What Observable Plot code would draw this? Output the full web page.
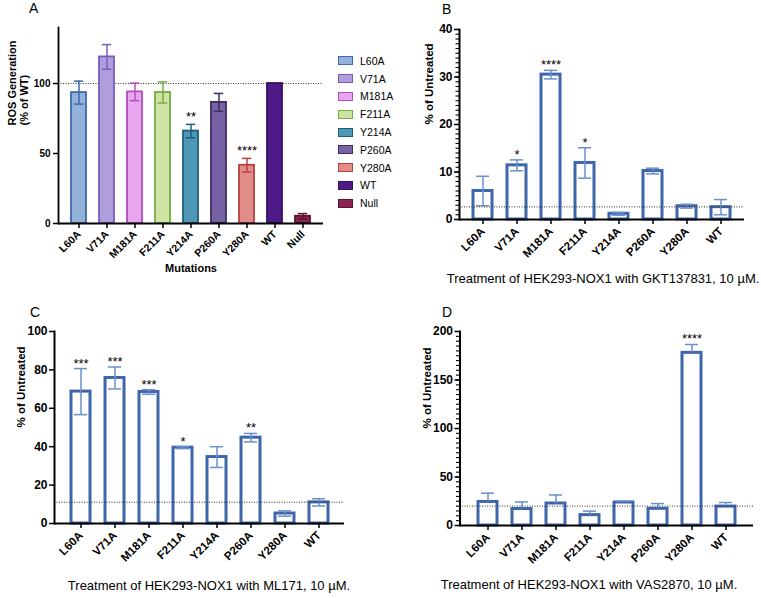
<!DOCTYPE html>
<html><head><meta charset="utf-8">
<script src="https://cdn.jsdelivr.net/npm/d3@7"></script>
<script src="https://cdn.jsdelivr.net/npm/@observablehq/plot@0.6"></script>
<style>
body{margin:0;background:#fff;font-family:"Liberation Sans",Arial,sans-serif;}
#root{position:relative;width:761px;height:598px;overflow:hidden;background:#fff;}
.panel{position:absolute;}
.letter{position:absolute;font-size:14px;color:#000;line-height:1;}
.caption{position:absolute;font-size:13px;color:#000;transform:translate(-50%,-50%);white-space:nowrap;}
.legend{position:absolute;left:338px;top:52px;font-size:10.5px;color:#000;}
.legend .row{display:flex;align-items:center;height:17.8px;}
.legend .sw{box-sizing:border-box;width:15px;height:9px;border:1.6px solid;margin-right:7px;}
</style></head><body><div id="root"></div><script>
// ---------- data ----------
const mutationsA = ["L60A","V71A","M181A","F211A","Y214A","P260A","Y280A","WT","Null"];
const rosValues = [93.5,119,94,93.6,66,86.5,41.6,100,5.2];
const rosErrors = [8.2,8.8,6.3,7.5,4.8,6.4,4.9,0,1.9];
const rosSig = ["","","","","**","","****","",""];
const fillColors = ["#94b1da","#b09edc","#e7a6ee","#cfe4a3","#4f97b7","#7862a5","#e08c89","#4d1a87","#8c2351"];
const strokeColors = ["#3e6aab","#7a5cbf","#b54cbf","#74ad44","#1c5f7b","#3d2d64","#b9403d","#35125f","#5c1433"];

const mutations = ["L60A","V71A","M181A","F211A","Y214A","P260A","Y280A","WT"];
const gktValues = [6.0,11.4,30.5,11.9,1.2,10.2,2.8,2.6];
const gktErrors = [3.1,1.15,0.9,3.2,0.3,0.6,0.4,1.6];
const gktSig = ["","*","****","*","","","",""];
const gktBaseline = 2.65;

const mlValues = [68.7,75.8,68.5,39.5,34.6,44.7,5.2,11];
const mlErrors = [12,5.7,1.2,0.5,5.4,2.2,1.4,1.9];
const mlSig = ["***","***","***","*","","**","",""];
const mlBaseline = 11.1;

const vasValues = [24.3,17,22.7,10.7,23.7,17.2,178,19.5];
const vasErrors = [9,7.3,8.8,4.1,1.4,5.4,8.6,4.2];
const vasSig = ["","","","","","","****",""];
const vasBaseline = 20;

const captions = [
  "Treatment of HEK293-NOX1 with GKT137831, 10 µM.",
  "Treatment of HEK293-NOX1 with ML171, 10 µM.",
  "Treatment of HEK293-NOX1 with VAS2870, 10 µM."
];

// ---------- helpers ----------
const root = document.getElementById("root");
const FONT = "'Liberation Sans', Arial, sans-serif";
function place(node, left, top){
  const d = document.createElement("div");
  d.className = "panel"; d.style.left = left + "px"; d.style.top = top + "px";
  d.appendChild(node); root.appendChild(d);
}
function addDiv(cls, text, left, top){
  const d = document.createElement("div");
  d.className = cls; d.textContent = text;
  d.style.left = left + "px"; d.style.top = top + "px";
  root.appendChild(d);
}

// ---------- Panel A ----------
const dataA = mutationsA.map((m,i)=>({m, v:rosValues[i], lo:rosValues[i]-rosErrors[i], hi:rosValues[i]+rosErrors[i], e:rosErrors[i], s:rosSig[i], fill:fillColors[i], stroke:strokeColors[i]}));
const errA = dataA.filter(d=>d.e>0);
const plotA = Plot.plot({
  width:380, height:290, marginLeft:58, marginRight:57, marginTop:27, marginBottom:67,
  style:{fontFamily:FONT, fontWeight:"bold", color:"#000", background:"transparent", overflow:"visible"},
  x:{domain:mutationsA, paddingInner:0.45, paddingOuter:0.39, label:null},
  y:{domain:[0,140], label:null},
  marks:[
    Plot.ruleY([100], {stroke:"#333", strokeWidth:1, strokeDasharray:"1,1.5"}),
    Plot.barY(dataA, {x:"m", y:"v", fill:d=>d.fill, stroke:d=>d.stroke, strokeWidth:1.8}),
    Plot.ruleX(errA, {x:"m", y1:"lo", y2:"hi", stroke:d=>d.stroke, strokeWidth:1.5}),
    Plot.tickY(errA, {x:"m", y:"hi", stroke:d=>d.stroke, strokeWidth:1.5, insetLeft:2.8, insetRight:2.8}),
    Plot.tickY(errA, {x:"m", y:"lo", stroke:d=>d.stroke, strokeWidth:1.5, insetLeft:2.8, insetRight:2.8}),
    Plot.text(dataA.filter(d=>d.s), {x:"m", y:"hi", text:"s", lineAnchor:"bottom", dy:-3, fontSize:13, fontWeight:"normal"}),
    Plot.axisY({ticks:[0,50,100], tickSize:5, tickPadding:3, fontSize:10, strokeWidth:1.5, label:null}),
    Plot.axisX({tickSize:5, tickPadding:4, tickRotate:-45, fontSize:10.5, strokeWidth:1.5, label:null}),
    Plot.ruleY([0], {strokeWidth:1.8}),
    Plot.frame({anchor:"left", strokeWidth:1.8}),
    Plot.text(["ROS Generation\n(% of WT)"], {text:d=>d, frameAnchor:"left", rotate:-90, dx:-40, fontSize:11, lineHeight:1.1}),
    Plot.text(["Mutations"], {text:d=>d, frameAnchor:"bottom", dy:48, fontSize:11})
  ]
});
place(plotA, 0, 0);

// legend A
const leg = document.createElement("div");
leg.className = "legend";
mutationsA.forEach((m,i)=>{
  const r = document.createElement("div"); r.className = "row";
  const sw = document.createElement("div"); sw.className = "sw";
  sw.style.background = fillColors[i]; sw.style.borderColor = strokeColors[i];
  const t = document.createElement("span"); t.textContent = m;
  r.appendChild(sw); r.appendChild(t); leg.appendChild(r);
});
root.appendChild(leg);

// ---------- hollow panels ----------
const BAR = "#3e66ab", ERR = "#6a8fcb";
function hollow({values, errors, sig, baseline, yMax, ticks, minor, w, h, ml, mr, mt, mb, po, upperOnly, labelDx}){
  const data = mutations.map((m,i)=>({m, v:values[i], lo:upperOnly ? values[i] : values[i]-errors[i], hi:values[i]+errors[i], s:sig[i]}));
  const frameW = w - ml - mr;
  const marks = [
    Plot.barY(data, {x:"m", y:"v", fill:"white", stroke:BAR, strokeWidth:3}),
    Plot.ruleX(data, {x:"m", y1:"lo", y2:"hi", stroke:ERR, strokeWidth:1.5}),
    Plot.tickY(data, {x:"m", y:"hi", stroke:ERR, strokeWidth:1.5, insetLeft:3, insetRight:3})
  ];
  if (!upperOnly) marks.push(Plot.tickY(data, {x:"m", y:"lo", stroke:ERR, strokeWidth:1.5, insetLeft:3, insetRight:3}));
  marks.push(
    Plot.ruleY([baseline], {stroke:"#333", strokeWidth:1, strokeDasharray:"1,1.5"}),
    Plot.text(data.filter(d=>d.s), {x:"m", y:"hi", text:"s", lineAnchor:"bottom", dy:-1, fontSize:13, fontWeight:"normal"})
  );
  if (minor) marks.push(Plot.tickY(d3.range(0, yMax + 1e-9, minor), {y:d=>d, stroke:"#000", strokeWidth:1.1, insetRight:frameW - 3.5, dx:-3.5}));
  marks.push(
    Plot.axisY({ticks, tickSize:5, tickPadding:2, fontSize:12, strokeWidth:1.5, label:null}),
    Plot.axisX({tickSize:5, tickPadding:5, tickRotate:-45, fontSize:11.5, strokeWidth:1.5, label:null}),
    Plot.ruleY([0], {strokeWidth:2}),
    Plot.frame({anchor:"left", strokeWidth:2}),
    Plot.text(["% of Untreated"], {text:d=>d, frameAnchor:"left", rotate:-90, dx:labelDx, fontSize:11.5})
  );
  return Plot.plot({
    width:w, height:h, marginLeft:ml, marginRight:mr, marginTop:mt, marginBottom:mb,
    style:{fontFamily:FONT, fontWeight:"bold", color:"#000", background:"transparent", overflow:"visible"},
    x:{domain:mutations, paddingInner:0.45, paddingOuter:po, label:null},
    y:{domain:[0,yMax], label:null},
    marks
  });
}

place(hollow({values:gktValues, errors:gktErrors, sig:gktSig, baseline:gktBaseline, yMax:40, ticks:[0,10,20,30,40], minor:1,
  w:381, h:300, ml:79, mr:17, mt:29, mb:81, po:0.38, upperOnly:false, labelDx:-30}), 380, 0);
place(hollow({values:mlValues, errors:mlErrors, sig:mlSig, baseline:mlBaseline, yMax:100, ticks:[0,20,40,60,80,100], minor:0,
  w:380, h:298, ml:54, mr:36, mt:31, mb:75, po:0.43, upperOnly:false, labelDx:-33}), 0, 300);
place(hollow({values:vasValues, errors:vasErrors, sig:vasSig, baseline:vasBaseline, yMax:200, ticks:[0,50,100,150,200], minor:5,
  w:381, h:298, ml:79.5, mr:8, mt:31, mb:73, po:0.43, upperOnly:true, labelDx:-33}), 380, 300);

// ---------- letters & captions ----------
addDiv("letter","A",29,1);
addDiv("letter","B",442,2);
addDiv("letter","C",30,305);
addDiv("letter","D",442,305);
addDiv("caption",captions[0],603,278);
addDiv("caption",captions[1],209,585);
addDiv("caption",captions[2],589,584);
</script></body></html>
